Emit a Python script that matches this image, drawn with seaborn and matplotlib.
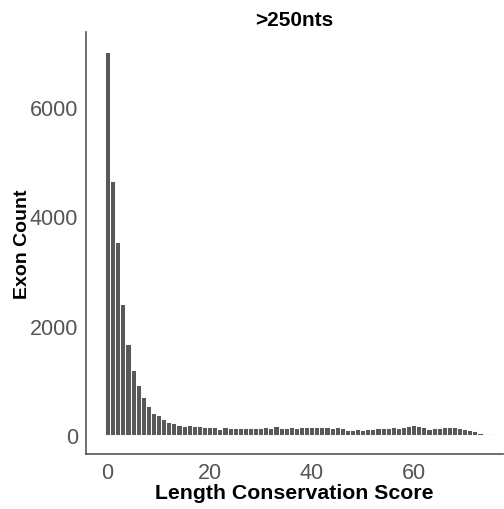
import matplotlib
matplotlib.use("Agg")
import matplotlib.pyplot as plt
import seaborn as sns
import numpy as np
import pandas as pd

scores = list(range(0, 76))
counts = [7000, 4640, 3520, 2400, 1670, 1180, 905, 690, 535, 400,
          360, 290, 240, 220, 180, 160, 175, 160, 160, 140,
          140, 140, 115, 140, 120, 120, 125, 120, 125, 125,
          130, 135, 120, 165, 125, 130, 135, 125, 150, 150,
          150, 150, 145, 140, 120, 135, 125, 95, 80, 100,
          95, 105, 110, 125, 120, 125, 140, 130, 150, 160,
          175, 160, 140, 110, 120, 120, 145, 145, 150, 120,
          100, 90, 70, 40, 15, 10]

title = ">250nts"
xlabel = "Length Conservation Score"
ylabel = "Exon Count"
xticks = [0, 20, 40, 60]
yticks = [0, 2000, 4000, 6000]

df = pd.DataFrame({"score": scores, "count": counts})

sns.set_style("white")
plt.rcParams['font.family'] = ['Liberation Sans', 'DejaVu Sans']

fig = plt.figure(figsize=(5.04, 5.10), dpi=100)
ax = fig.add_axes([0.171, 0.108, 0.827, 0.827])

sns.histplot(data=df, x="score", weights="count", discrete=True,
             color="#595959", edgecolor="white", linewidth=0.7,
             alpha=1, ax=ax)

ax.set_xlim(-4.2, 77.5)
ax.set_ylim(-350, 7370)
ax.set_xticks(xticks)
ax.set_yticks(yticks)
ax.tick_params(axis="both", colors="#555555", labelcolor="#555555",
               labelsize=15.5, length=4, width=1, direction="out")
ax.tick_params(axis="x", pad=2)
ax.tick_params(axis="y", pad=2)
for s in ["top", "right"]:
    ax.spines[s].set_visible(False)
for s in ["left", "bottom"]:
    ax.spines[s].set_color("#555555")
    ax.spines[s].set_linewidth(1.2)

ax.set_xlabel(xlabel, fontsize=15.3, fontweight="bold", color="black", labelpad=0)
ax.set_ylabel(ylabel, fontsize=14, fontweight="bold", color="black", labelpad=-1)
ax.set_title(title, fontsize=15, fontweight="bold", color="black", pad=5)

fig.savefig("out.png", dpi=100)
